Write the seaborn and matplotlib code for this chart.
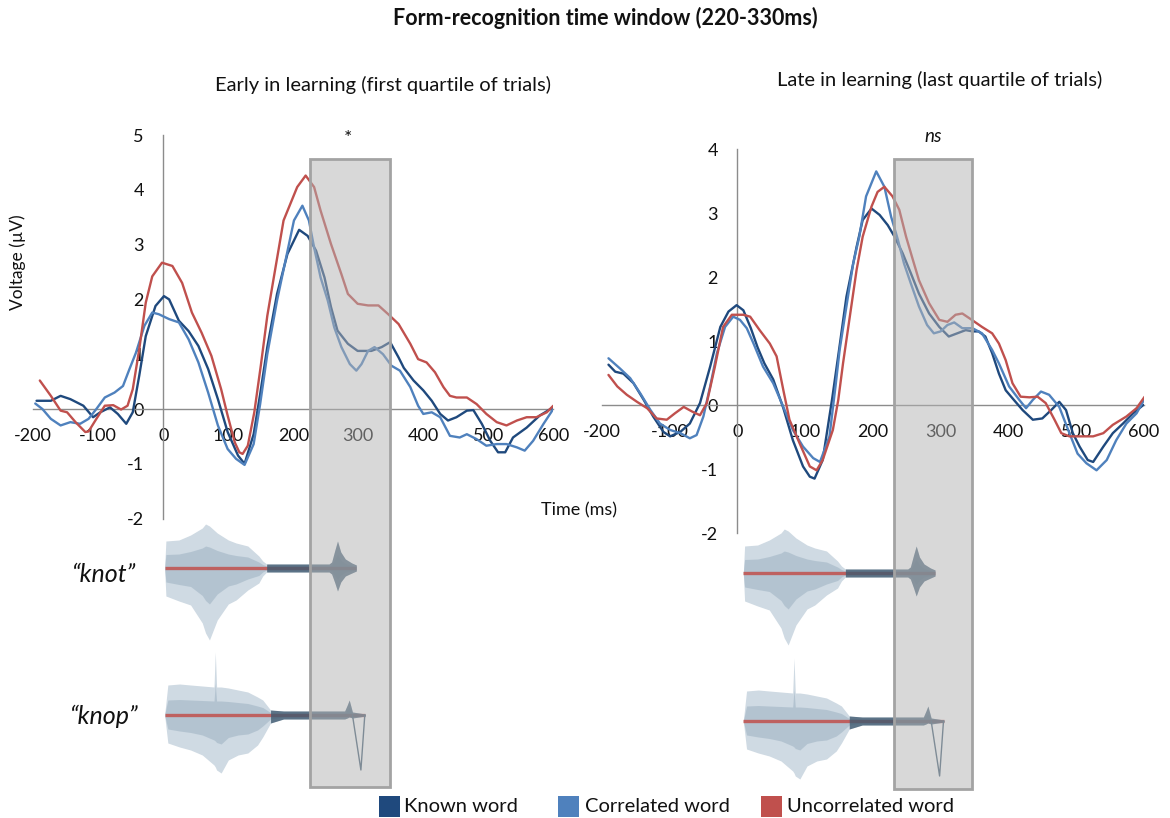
import matplotlib
matplotlib.use("Agg")
import matplotlib.pyplot as plt
from matplotlib.patches import Rectangle
import pandas as pd
import seaborn as sns

sns.set_theme(style="white")
plt.rcParams["font.family"] = ["Lato", "DejaVu Sans"]
plt.rcParams["axes.unicode_minus"] = False

CONDITIONS = ["Known word", "Correlated word", "Uncorrelated word"]
PALETTE = {"Known word": "#1F497D", "Correlated word": "#4F81BD",
           "Uncorrelated word": "#C0504D"}
TEXT = "#111111"
AXIS = "#8c8c8c"

# ---------------- ERP waveforms: early in learning (first quartile) ----------
early_known_t = [-195, -186, -173, -158, -143, -123, -108, -97, -82, -70, -57, -47, -37, -27,
                 -12, 1, 9, 24, 39, 54, 69, 84, 99, 115, 125, 139, 149, 160, 175, 191, 209,
                 222, 235, 248, 258, 268, 284, 299, 320, 336, 349, 362, 370, 385, 400, 413,
                 426, 438, 451, 467, 477, 490, 503, 515, 526, 538, 559, 579, 600]
early_known_uv = [0.15, 0.15, 0.15, 0.24, 0.18, 0.06, -0.15, -0.06, 0.03, -0.09, -0.27, -0.06,
                  0.61, 1.33, 1.88, 2.06, 2.00, 1.61, 1.42, 1.15, 0.73, 0.18, -0.42, -0.85,
                  -1.00, -0.46, 0.27, 1.13, 2.10, 2.83, 3.27, 3.16, 2.89, 2.40, 1.86, 1.43,
                  1.19, 1.06, 1.06, 1.13, 1.22, 0.94, 0.75, 0.52, 0.34, 0.15, -0.09, -0.21,
                  -0.15, -0.03, -0.02, -0.27, -0.58, -0.79, -0.79, -0.52, -0.34, -0.12, 0.03]

early_corr_t = [-197, -186, -173, -158, -143, -128, -115, -103, -90, -75, -62, -52, -42, -29,
                -17, -7, 9, 24, 39, 54, 69, 84, 99, 112, 125, 139, 149, 160, 175, 188, 201,
                214, 224, 232, 242, 253, 263, 274, 287, 297, 305, 315, 325, 338, 351, 364,
                380, 392, 400, 413, 426, 441, 456, 467, 482, 497, 513, 528, 544, 556, 569,
                585, 600]
early_corr_uv = [0.10, 0.00, -0.18, -0.30, -0.24, -0.27, -0.18, 0.00, 0.21, 0.30, 0.42, 0.73,
                 1.03, 1.52, 1.76, 1.73, 1.64, 1.58, 1.27, 0.85, 0.30, -0.30, -0.73, -0.91,
                 -1.02, -0.64, 0.09, 1.00, 1.98, 2.71, 3.44, 3.71, 3.44, 2.95, 2.40, 1.98,
                 1.49, 1.13, 0.82, 0.70, 0.82, 1.06, 1.13, 1.00, 0.79, 0.70, 0.40, 0.06,
                 -0.09, -0.06, -0.15, -0.49, -0.52, -0.46, -0.55, -0.67, -0.64, -0.64, -0.70,
                 -0.76, -0.58, -0.27, 0.00]

early_uncorr_t = [-190, -173, -158, -148, -135, -120, -115, -103, -90, -77, -65, -55, -47,
                  -37, -27, -17, -2, 14, 29, 44, 59, 74, 89, 99, 110, 117, 122, 130, 140, 150,
                  160, 170, 185, 206, 219, 232, 242, 258, 274, 284, 299, 315, 331, 346, 362,
                  380, 392, 405, 418, 431, 441, 451, 467, 482, 497, 513, 528, 544, 559, 574,
                  590, 600]
early_uncorr_uv = [0.52, 0.24, -0.03, -0.06, -0.24, -0.42, -0.41, -0.18, 0.06, 0.07, -0.01,
                   0.06, 0.36, 1.09, 1.94, 2.42, 2.67, 2.61, 2.30, 1.76, 1.39, 0.97, 0.36,
                   -0.12, -0.61, -0.79, -0.82, -0.67, -0.06, 0.79, 1.70, 2.40, 3.44, 4.05,
                   4.26, 4.05, 3.62, 3.01, 2.46, 2.10, 1.92, 1.89, 1.89, 1.73, 1.55, 1.19,
                   0.91, 0.85, 0.67, 0.40, 0.24, 0.21, 0.21, 0.09, -0.09, -0.24, -0.30, -0.21,
                   -0.15, -0.15, -0.06, 0.06]

# ---------------- ERP waveforms: late in learning (last quartile) -------------
late_known_t = [-190, -180, -168, -153, -138, -124, -109, -99, -84, -70, -55, -40, -25, -13,
                -1, 9, 20, 30, 40, 53, 68, 82, 97, 107, 114, 126, 140, 150, 161, 176, 185,
                198, 210, 222, 232, 244, 256, 268, 283, 298, 312, 322, 337, 347, 356, 366,
                376, 386, 396, 408, 421, 436, 450, 463, 475, 485, 495, 505, 517, 525, 540,
                554, 569, 584, 599]
late_known_uv = [0.63, 0.52, 0.49, 0.34, 0.08, -0.18, -0.42, -0.49, -0.42, -0.29, 0.03, 0.60,
                 1.22, 1.46, 1.56, 1.48, 1.20, 0.90, 0.65, 0.40, -0.05, -0.55, -0.96, -1.12,
                 -1.15, -0.86, 0.10, 0.85, 1.69, 2.47, 2.89, 3.07, 2.97, 2.81, 2.63, 2.37,
                 2.06, 1.74, 1.43, 1.22, 1.07, 1.11, 1.17, 1.15, 1.15, 1.07, 0.81, 0.49, 0.23,
                 0.08, -0.08, -0.23, -0.21, -0.08, 0.05, -0.08, -0.44, -0.65, -0.86, -0.89,
                 -0.65, -0.44, -0.29, -0.13, 0.00]

late_corr_t = [-190, -173, -158, -143, -128, -114, -99, -84, -70, -60, -50, -40, -30, -18, -6,
               4, 14, 24, 38, 53, 68, 82, 97, 112, 122, 136, 145, 151, 161, 171, 180, 190,
               205, 217, 227, 237, 246, 256, 268, 280, 290, 300, 310, 320, 332, 347, 361,
               376, 386, 401, 416, 426, 436, 448, 460, 475, 490, 502, 515, 530, 545, 559,
               574, 589, 600]
late_corr_uv = [0.73, 0.57, 0.42, 0.18, -0.08, -0.29, -0.39, -0.44, -0.52, -0.47, -0.18, 0.29,
                0.81, 1.22, 1.38, 1.33, 1.20, 0.96, 0.60, 0.34, -0.03, -0.39, -0.65, -0.83,
                -0.89, -0.49, 0.30, 0.86, 1.54, 2.21, 2.63, 3.26, 3.65, 3.41, 2.94, 2.58,
                2.21, 1.90, 1.54, 1.25, 1.12, 1.15, 1.25, 1.29, 1.20, 1.20, 1.12, 0.86, 0.65,
                0.29, 0.08, -0.05, 0.08, 0.21, 0.16, -0.03, -0.44, -0.76, -0.91, -1.02, -0.86,
                -0.55, -0.29, -0.13, 0.08]

late_uncorr_t = [-190, -177, -163, -148, -133, -119, -104, -92, -79, -67, -55, -45, -33, -21,
                 -8, 9, 19, 33, 48, 58, 68, 77, 92, 107, 117, 126, 141, 149, 156, 166, 176,
                 185, 198, 207, 217, 229, 239, 249, 259, 268, 283, 298, 310, 322, 332, 346,
                 361, 376, 386, 396, 406, 418, 431, 443, 455, 468, 478, 490, 505, 525, 540,
                 554, 574, 589, 601]
late_uncorr_uv = [0.47, 0.29, 0.16, 0.05, -0.05, -0.21, -0.23, -0.13, -0.03, -0.10, -0.16,
                  0.03, 0.60, 1.22, 1.41, 1.41, 1.38, 1.17, 0.96, 0.76, 0.23, -0.23, -0.60,
                  -0.96, -1.02, -0.86, -0.39, 0.08, 0.65, 1.38, 2.11, 2.63, 3.10, 3.33, 3.41,
                  3.26, 3.05, 2.63, 2.27, 1.95, 1.59, 1.33, 1.30, 1.41, 1.43, 1.33, 1.22, 1.12,
                  0.96, 0.70, 0.34, 0.13, 0.12, 0.13, 0.03, -0.23, -0.44, -0.49, -0.49, -0.49,
                  -0.44, -0.31, -0.18, -0.05, 0.13]

# ---------------- oscillogram envelopes of the two spoken words (ms, px) ------
knot_t = [2, 4, 24, 42, 60, 65, 71, 83, 100, 112, 130, 147, 153, 159, 175, 195, 215, 235,
          255, 259, 264, 268, 273, 280, 290, 297]
knot_hi = [0, 27, 28, 33, 40, 44, 42, 35, 28, 25, 22, 12, 7, 4, 4, 4, 4, 4, 4, 6, 18, 27, 16,
           9, 5, 3]
knot_lo = [0, -28, -33, -37, -55, -65, -72, -52, -36, -32, -22, -15, -8, -4, -4, -4, -4, -4,
           -4, -6, -15, -23, -14, -8, -5, -3]

knop_t = [2, 7, 25, 42, 60, 78, 80, 82, 89, 100, 115, 130, 145, 153, 165, 185, 205, 225, 245,
          265, 279, 283, 286, 291, 311]
knop_hi = [0, 30, 31, 30, 29, 28, 63, 28, 28, 27, 25, 23, 18, 15, 5, 4, 4, 4, 4, 4, 4, 10, 15,
           3, 1]
knop_lo = [0, -28, -32, -35, -40, -50, -52, -55, -58, -45, -40, -38, -30, -22, -8, -4, -4, -4,
           -4, -4, -4, -3, -2, -3, -1]
knop_click_t = [291, 304, 310]
knop_click_px = [0, -55, 0]

# analysis window (ms) as boxed in each panel
early_window = (226, 349)
late_window = (231, 347)

W, H = 1170, 818
fig = plt.figure(figsize=(W / 100, H / 100), dpi=100)


def fig_box(x0, y_top, width, y_bottom):
    return [x0 / W, 1 - y_bottom / H, width / W, (y_bottom - y_top) / H]


def long_frame(series):
    rows = []
    for cond, (t, v) in zip(CONDITIONS, series):
        rows.append(pd.DataFrame({"Time (ms)": t, "Voltage": v, "Condition": cond}))
    return pd.concat(rows, ignore_index=True)


def draw_erp(ax, series, ylim, yticks):
    df = long_frame(series)
    sns.lineplot(data=df, x="Time (ms)", y="Voltage", hue="Condition",
                 hue_order=CONDITIONS, palette=PALETTE, estimator=None, sort=False,
                 linewidth=1.7, legend=False, ax=ax, zorder=3)
    ax.set_xlim(-200, 600)
    ax.set_ylim(*ylim)
    ax.set_xticks(range(-200, 601, 100))
    ax.set_yticks(yticks)
    ax.set_xlabel("")
    ax.set_ylabel("")
    ax.set_facecolor("none")
    for side in ("top", "right"):
        ax.spines[side].set_visible(False)
    ax.spines["left"].set_position(("data", 0))
    ax.spines["bottom"].set_position(("data", 0))
    for side in ("left", "bottom"):
        ax.spines[side].set_color(AXIS)
        ax.spines[side].set_linewidth(1.0)
    ax.tick_params(axis="x", direction="out", length=5, width=1, color=AXIS, pad=9,
                   labelsize=13, labelcolor=TEXT)
    ax.tick_params(axis="y", direction="out", length=5, width=1, color=AXIS, pad=9,
                   labelsize=13, labelcolor=TEXT)
    ax.grid(False)


def draw_word(ax, t, hi, lo, centre):
    top = [centre - h for h in hi]
    bot = [centre - l for l in lo]
    ax.fill_between(t, top, bot, color="#cfdae3", lw=0, zorder=1)
    mid_top = [centre - 0.5 * h for h in hi]
    mid_bot = [centre - 0.5 * l for l in lo]
    ax.fill_between(t, mid_top, mid_bot, color="#a5b8c7", alpha=0.65, lw=0, zorder=2)
    ax.plot([t[0], t[-1]], [centre, centre], color="#c0504d", lw=2.4, alpha=0.85,
            zorder=3, solid_capstyle="butt")
    tail_t = [x for x in t if x >= 159]
    tail_top = [centre - h for x, h in zip(t, hi) if x >= 159]
    tail_bot = [centre - l for x, l in zip(t, lo) if x >= 159]
    ax.fill_between(tail_t, tail_top, tail_bot, color="#3f5a70", alpha=0.8, lw=0, zorder=4)


def draw_words(ax, centres):
    ax.set_xlim(-200, 600)
    ax.set_ylim(800, 520)
    ax.axis("off")
    ax.set_facecolor("none")
    draw_word(ax, knot_t, knot_hi, knot_lo, centres[0])
    draw_word(ax, knop_t, knop_hi, knop_lo, centres[1])
    ax.plot(knop_click_t, [centres[1] - p for p in knop_click_px], color="#4a6479",
            lw=1.0, zorder=5)


def window_box(ax, window, v_top, y_bottom_px):
    to_fig = fig.transFigure.inverted()
    x0, y0 = to_fig.transform(ax.transData.transform((window[0], v_top)))
    x1, _ = to_fig.transform(ax.transData.transform((window[1], v_top)))
    yb = 1 - y_bottom_px / H
    fig.patches.append(Rectangle((x0, yb), x1 - x0, y0 - yb, transform=fig.transFigure,
                                 facecolor=(0.70, 0.70, 0.70, 0.5), edgecolor="#a3a3a3",
                                 linewidth=2.0, zorder=10))


# Early panel
ax_e = fig.add_axes(fig_box(33.3, 135.0, 520.0, 518.6))
draw_erp(ax_e, [(early_known_t, early_known_uv), (early_corr_t, early_corr_uv),
                (early_uncorr_t, early_uncorr_uv)], (-2, 5), range(-2, 6))
wav_e = fig.add_axes(fig_box(33.3, 520, 520.0, 800))
draw_words(wav_e, (568, 715))

# Late panel
ax_l = fig.add_axes(fig_box(601.7, 149.0, 542.3, 533.0))
draw_erp(ax_l, [(late_known_t, late_known_uv), (late_corr_t, late_corr_uv),
                (late_uncorr_t, late_uncorr_uv)], (-2, 4), range(-2, 5))
wav_l = fig.add_axes(fig_box(612.0, 520, 520.0, 800))
draw_words(wav_l, (573, 721))

window_box(ax_e, early_window, 4.56, 787)
window_box(ax_l, late_window, 3.84, 789)

# Titles and annotations
fig.text(605 / W, 1 - 18 / H, "Form-recognition time window (220-330ms)", ha="center",
         va="center", fontsize=15.5, fontweight="bold", color=TEXT)
fig.text(383 / W, 1 - 85 / H, "Early in learning (first quartile of trials)", ha="center",
         va="center", fontsize=14.5, color=TEXT)
fig.text(940 / W, 1 - 80 / H, "Late in learning (last quartile of trials)", ha="center",
         va="center", fontsize=14.5, color=TEXT)
fig.text(348 / W, 1 - 138 / H, "*", ha="center", va="center", fontsize=14, color=TEXT)
fig.text(933 / W, 1 - 137 / H, "ns", ha="center", va="center", fontsize=13.5,
         style="italic", color=TEXT)
fig.text(18 / W, 1 - 262 / H, "Voltage (\u00b5V)", ha="center", va="center", fontsize=12.5,
         rotation=90, color=TEXT)
fig.text(579 / W, 1 - 510 / H, "Time (ms)", ha="center", va="center", fontsize=13,
         color=TEXT)
fig.text(104 / W, 1 - 574 / H, "\u201cknot\u201d", ha="center", va="center", fontsize=18,
         style="italic", color=TEXT)
fig.text(104 / W, 1 - 716 / H, "\u201cknop\u201d", ha="center", va="center", fontsize=18,
         style="italic", color=TEXT)

# Legend: coloured squares with condition names
legend_square_x = [379, 558, 761]
legend_text_x = [404, 585, 787]
for cond, sx, tx in zip(CONDITIONS, legend_square_x, legend_text_x):
    fig.patches.append(Rectangle((sx / W, 1 - 817 / H), 21 / W, 21 / H,
                                 transform=fig.transFigure, facecolor=PALETTE[cond],
                                 edgecolor="none", zorder=11))
    fig.text(tx / W, 1 - 806 / H, cond, ha="left", va="center", fontsize=14.5, color=TEXT)

fig.savefig("out.png", dpi=100)
